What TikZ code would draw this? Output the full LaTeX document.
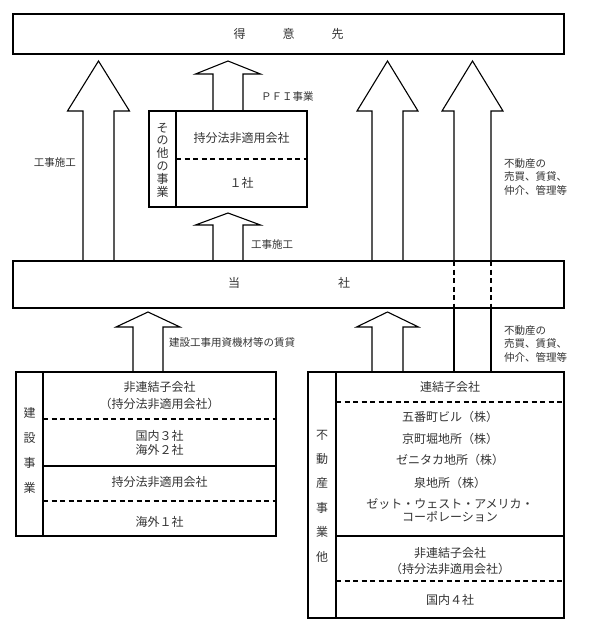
\documentclass[tikz,border=0pt]{standalone}
\usepackage{fontspec}
\setmainfont{Noto Sans CJK JP}
\usetikzlibrary{calc,positioning}
\tikzset{
  box/.style={draw, line width=1.1pt, outer sep=0pt, inner sep=0pt},
  boxline/.style={line width=1.1pt, line join=miter},
  dashline/.style={line width=1.1pt, dash pattern=on 5pt off 3.5pt},
  txt/.style={font=\fontsize{12}{12.8}\selectfont, text=black!80, inner sep=0pt, align=center},
  lbl/.style={font=\fontsize{10.5}{13.5}\selectfont, text=black!80, inner sep=0pt, align=left},
}
% block arrow: x, base anchor, target anchor, gap, shaft half, head half, head length
\newcommand{\bigup}[7]{%
  \draw[boxline] let \p1=(#2), \p2=(#3) in
    (#1pt-#5pt,\y1) -- (#1pt-#5pt,\y2-#4pt-#7pt) -- (#1pt-#6pt,\y2-#4pt-#7pt)
    -- (#1pt,\y2-#4pt) -- (#1pt+#6pt,\y2-#4pt-#7pt) -- (#1pt+#5pt,\y2-#4pt-#7pt)
    -- (#1pt+#5pt,\y1);
}
\begin{document}
\begin{tikzpicture}[x=1pt,y=-1pt]
    \useasboundingbox (0,0) rectangle (590,632);

    % boxes
    \node[box, minimum width=551pt, minimum height=40pt] (tokui) at (288.5,34) {};
    \node[box, minimum width=551pt, minimum height=47pt] (tosha) at (288.5,284.5) {};
    \node[box, minimum width=158pt, minimum height=96pt] (other) at (228,159) {};
    \node[box, minimum width=260pt, minimum height=164pt] (ken) at (146,454) {};
    \node[box, minimum width=256pt, minimum height=246pt] (fudo) at (436,495) {};

    % compartments
    \draw[boxline] (other.north west) ++(27,0) -- ++(0,96);
    \draw[dashline] (176,159) -- (other.east |- 0,159);
    \draw[boxline] (ken.north west) ++(27,0) -- ++(0,164);
    \draw[dashline] (43,419) -- (ken.east |- 0,419);
    \draw[boxline] (43,466) -- (ken.east |- 0,466);
    \draw[dashline] (43,501) -- (ken.east |- 0,501);
    \draw[boxline] (fudo.north west) ++(28,0) -- ++(0,246);
    \draw[dashline] (336,402) -- (fudo.east |- 0,402);
    \draw[boxline] (336,536) -- (fudo.east |- 0,536);
    \draw[dashline] (336,581) -- (fudo.east |- 0,581);

    % arrows
    \bigup{98.5}{tosha.north}{tokui.south}{7}{15.5}{31}{50}
    \bigup{228}{other.north}{tokui.south}{7}{15}{32.5}{13}
    \bigup{387.5}{tosha.north}{tokui.south}{7}{15.5}{30.5}{50}
    \bigup{472.5}{tosha.north}{tokui.south}{7}{18.5}{30.5}{50}
    \bigup{228}{tosha.north}{other.south}{6}{15}{32.5}{12}
    \bigup{148}{ken.north}{tosha.south}{4}{15}{32}{15}
    \bigup{387.5}{fudo.north}{tosha.south}{4}{15.5}{31}{15}
    \draw[dashline] let \p1=(tosha.north), \p2=(tosha.south) in
        (454pt,\y1) -- (454pt,\y2) (491pt,\y1) -- (491pt,\y2);
    \draw[boxline] let \p1=(tosha.south), \p2=(fudo.north) in
        (454pt,\y1) -- (454pt,\y2) (491pt,\y1) -- (491pt,\y2);

    % main texts
    \node[txt] (ttokui) at (tokui.center) {得\hspace{37pt}意\hspace{37pt}先};
    \node[txt] (ttosha) at (289,283) {当\hspace{98pt}社};

    % labels
    \node[lbl] (lkoji1) at (55,163) {工事施工};
    \node[lbl, anchor=west] (lpfi) at (261,97) {ＰＦＩ事業};
    \node[lbl, anchor=west] (lkoji2) at (251,245) {工事施工};
    \node[lbl, anchor=west] (lfudo1) at (504,177) {不動産の\\売買、賃貸、\\仲介、管理等};
    \node[lbl, anchor=west] (lfudo2) at (504,344) {不動産の\\売買、賃貸、\\仲介、管理等};
    \node[lbl, anchor=west] (lshizai) at (169,343) {建設工事用資機材等の賃貸};

    % other business
    \node[txt] (oside) at (162.5,160) {そ\\の\\他\\の\\事\\業};
    \node[txt] (o1) at (241.5,138) {持分法非適用会社};
    \node[txt] (o2) at (241.5,183) {１社};

    % construction
    \node[txt, font=\fontsize{12}{25}\selectfont] (kside) at (29.5,450.5) {建\\設\\事\\業};
    \node[txt] (k1) at (159.5,387) {非連結子会社};
    \node[txt] (k2) at (159.5,404) {（持分法非適用会社）};
    \node[txt] (k3) at (159.5,436) {国内３社};
    \node[txt] (k4) at (159.5,450) {海外２社};
    \node[txt] (k5) at (159.5,482) {持分法非適用会社};
    \node[txt] (k6) at (159.5,522) {海外１社};

    % real estate
    \node[txt, font=\fontsize{12}{24.4}\selectfont] (fside) at (322,496) {不\\動\\産\\事\\業\\他};
    \node[txt] (f1) at (450,387) {連結子会社};
    \node[txt] (f2) at (450,417) {五番町ビル（株）};
    \node[txt] (f3) at (450,439) {京町堀地所（株）};
    \node[txt] (f4) at (450,460) {ゼニタカ地所（株）};
    \node[txt] (f5) at (450,483) {泉地所（株）};
    \node[txt] (f6) at (450,504) {ゼット・ウェスト・アメリカ・};
    \node[txt] (f7) at (450,517) {コーポレーション};
    \node[txt] (f8) at (450,553) {非連結子会社};
    \node[txt] (f9) at (450,569) {（持分法非適用会社）};
    \node[txt] (f10) at (450,600) {国内４社};
\end{tikzpicture}
\end{document}
